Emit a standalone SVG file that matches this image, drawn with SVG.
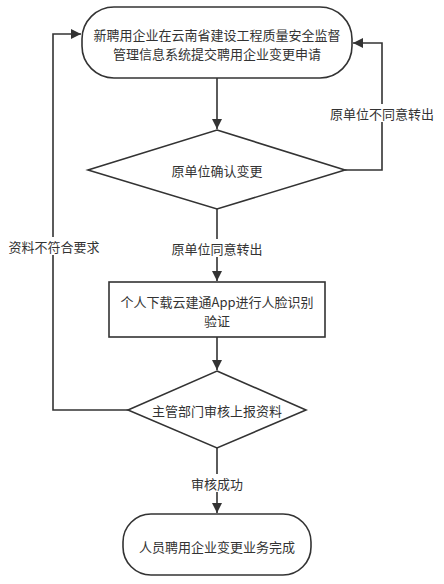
<svg xmlns="http://www.w3.org/2000/svg" width="444" height="584" viewBox="0 0 444 584">
<style>
.s{fill:#fff;stroke:#333;stroke-width:1.6}
.c{fill:none;stroke:#333;stroke-width:1.6}
text{font-family:"Noto Sans CJK SC","Liberation Sans",sans-serif;font-size:13px;fill:#333;text-anchor:middle;dominant-baseline:central}
.lb{fill:#fff;stroke:none}
</style>
<defs>
<marker id="a" viewBox="0 0 10 10" refX="10" refY="5" markerWidth="10" markerHeight="10" markerUnits="userSpaceOnUse" orient="auto">
<path d="M0,0 L10,5 L0,10 z" fill="#333"/>
</marker>
</defs>
<rect width="444" height="584" fill="#fff"/>
<g id="connectors">
<path class="c" d="M217,78 V129" marker-end="url(#a)"/>
<path class="c" d="M345,170 H382 V43 H353" marker-end="url(#a)"/>
<rect class="lb" x="330" y="104" width="104" height="18"/>
<text x="382" y="113">原单位不同意转出</text>
<path class="c" d="M217,209 V281" marker-end="url(#a)"/>
<rect class="lb" x="170" y="239" width="94" height="18"/>
<text x="217" y="248">原单位同意转出</text>
<path class="c" d="M217,337 V370" marker-end="url(#a)"/>
<path class="c" d="M128,410 H53 V34 H81" marker-end="url(#a)"/>
<rect class="lb" x="6" y="237" width="96" height="18"/>
<text x="54" y="246">资料不符合要求</text>
<path class="c" d="M217,448 V513" marker-end="url(#a)"/>
<rect class="lb" x="190" y="474" width="54" height="18"/>
<text x="217" y="483">审核成功</text>
</g>
<g id="start">
<rect class="s" x="82" y="7" width="270" height="71" rx="32" ry="32"/>
<text><tspan x="217" y="34">新聘用企业在云南省建设工程质量安全监督</tspan><tspan x="217" y="53">管理信息系统提交聘用企业变更申请</tspan></text>
</g>
<g id="decision1">
<polygon class="s" points="217,130 345,170 217,209 88,170"/>
<text x="217" y="170">原单位确认变更</text>
</g>
<g id="process">
<rect class="s" x="109" y="282" width="216" height="55"/>
<text><tspan x="217" y="301">个人下载云建通App进行人脸识别</tspan><tspan x="217" y="320">验证</tspan></text>
</g>
<g id="decision2">
<polygon class="s" points="217,371 306,410 217,448 128,410"/>
<text x="217" y="410">主管部门审核上报资料</text>
</g>
<g id="end">
<rect class="s" x="123" y="514" width="188" height="61" rx="28" ry="28"/>
<text x="217" y="546">人员聘用企业变更业务完成</text>
</g>
</svg>
